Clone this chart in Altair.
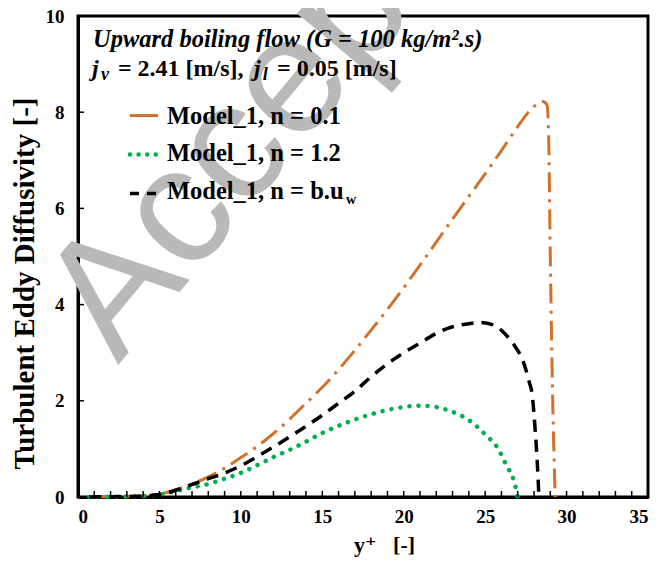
import altair as alt
import pandas as pd

# ---- data ----
x_n01 = [0.7, 2, 3, 4, 5, 6, 7, 8, 9, 10, 11, 12, 13, 14, 15, 16, 17, 18, 19, 20,
         21, 22, 23, 24, 25, 26, 27, 28, 28.55, 28.8, 28.9, 29.0, 29.15, 29.3]
y_n01 = [0.0, 0.005, 0.015, 0.03, 0.06, 0.15, 0.27, 0.42, 0.6, 0.82, 1.05, 1.32, 1.62,
         1.95, 2.28, 2.65, 3.05, 3.47, 3.9, 4.35, 4.82, 5.3, 5.78, 6.25, 6.72, 7.2,
         7.7, 8.12, 8.22, 8.15, 7.5, 5.0, 2.0, 0.0]

x_n12 = [0.7, 2, 3, 4, 5, 6, 7, 8, 9, 10, 11, 12, 13, 14, 15, 16, 17, 18, 19, 20,
         21, 22, 23, 24, 25, 25.8, 26.3, 26.8, 27.0]
y_n12 = [0.0, 0.005, 0.01, 0.02, 0.05, 0.12, 0.2, 0.27, 0.38, 0.5, 0.66, 0.83, 0.98,
         1.15, 1.33, 1.48, 1.61, 1.72, 1.81, 1.87, 1.9, 1.87, 1.77, 1.6, 1.3, 1.0,
         0.66, 0.3, 0.0]

x_bu = [0.7, 2, 3, 4, 5, 6, 7, 8, 9, 10, 11, 12, 13, 14, 15, 16, 17, 18, 19, 20, 21,
        22, 23, 24, 24.7, 25.5, 26.2, 26.8, 27.3, 27.7, 27.9, 28.05, 28.15, 28.25, 28.3]
y_bu = [0.0, 0.005, 0.01, 0.02, 0.05, 0.14, 0.26, 0.38, 0.5, 0.65, 0.84, 1.04, 1.25,
        1.47, 1.7, 1.95, 2.2, 2.5, 2.77, 3.0, 3.2, 3.4, 3.54, 3.6, 3.63, 3.58, 3.4,
        3.15, 2.85, 2.4, 2.1, 1.5, 1.0, 0.4, 0.0]

x_ticks = [0, 5, 10, 15, 20, 25, 30, 35]
y_ticks = [0, 2, 4, 6, 8, 10]
x_minor = list(range(1, 35))
y_minor = [2, 4, 6, 8]

legend_labels = ["Model_1, n = 0.1", "Model_1, n = 1.2", "Model_1, n = b.u"]
legend_y_line = [7.93, 7.12, 6.31]
legend_y_text = [7.76, 6.98, 6.19]

ORANGE = "#D2712B"
GREEN = "#00B050"
BLACK = "#000000"
SERIF = "Liberation Serif, Times New Roman, Times, DejaVu Serif, serif"

W, H = 570, 481

xs = alt.Scale(domain=[0, 35], nice=False, zero=False)
ys = alt.Scale(domain=[0, 10], nice=False, zero=False)

x_axis = alt.Axis(values=x_ticks, format="d", labelFont=SERIF, labelFontWeight="bold",
                  labelFontSize=19, labelColor="black", labelPadding=10, tickSize=0,
                  domainColor="black", domainWidth=3, grid=False,
                  title="y⁺\u00a0\u00a0\u00a0[-]", titleFont=SERIF, titleFontSize=22,
                  titleFontWeight="bold", titleColor="black", titleX=306, titleY=54,
                  titleBaseline="alphabetic", titleAlign="center")
y_axis = alt.Axis(values=y_ticks, format="d", labelFont=SERIF, labelFontWeight="bold",
                  labelFontSize=19, labelColor="black", labelPadding=14, tickSize=0,
                  domainColor="black", domainWidth=3, grid=False,
                  title="Turbulent Eddy Diffusivity [-]", titleFont=SERIF,
                  titleFontSize=29, titleFontWeight="bold", titleColor="black",
                  titleX=-45, titleY=267, titleAngle=270, titleAlign="center",
                  titleBaseline="alphabetic")


def X(field="x"):
    return alt.X(f"{field}:Q", scale=xs, axis=x_axis)


def Y(field="y"):
    return alt.Y(f"{field}:Q", scale=ys, axis=y_axis)


# watermark
wm = alt.Chart(pd.DataFrame({"x": [2.45], "y": [2.74], "t": ["Accepted"]})).mark_text(
    font="Liberation Sans, Arial, sans-serif", fontSize=168, angle=310, align="left",
    baseline="alphabetic", color="#b9b9b9"
).encode(x=X(), y=Y(), text="t:N")

df1 = pd.DataFrame({"x": x_n01, "y": y_n01})
df2 = pd.DataFrame({"x": x_n12, "y": y_n12})
df3 = pd.DataFrame({"x": x_bu, "y": y_bu})

l1 = alt.Chart(df1).mark_line(color=ORANGE, strokeWidth=3, strokeDash=[20, 7, 3, 7],
                              interpolate="monotone").encode(x=X(), y=Y(), order="x:Q")
l2 = alt.Chart(df2).mark_line(color=GREEN, strokeWidth=4.5, strokeDash=[0.1, 9],
                              strokeCap="round", interpolate="monotone").encode(x=X(), y=Y(), order="x:Q")
l3 = alt.Chart(df3).mark_line(color=BLACK, strokeWidth=3.5, strokeDash=[12, 8],
                              interpolate="monotone").encode(x=X(), y=Y(), order="x:Q")

# inward ticks
xt = alt.Chart(pd.DataFrame({"x": x_minor})).mark_rule(color="black", strokeWidth=1.5).encode(
    x=X(), y=alt.value(H), y2=alt.value(H - 6))
yt = alt.Chart(pd.DataFrame({"y": y_minor})).mark_rule(color="black", strokeWidth=1.5).encode(
    y=Y(), x=alt.value(0), x2=alt.value(6))

# legend
lx0, lx1, ltx = 3.19, 4.91, 5.46
leg1 = alt.Chart(pd.DataFrame({"x": [lx0], "x2": [lx1], "y": [legend_y_line[0]]})).mark_rule(
    color=ORANGE, strokeWidth=3).encode(x=X(), x2="x2:Q", y=Y())
leg2 = alt.Chart(pd.DataFrame({"x": [lx0], "x2": [lx1 + 0.1], "y": [legend_y_line[1]]})).mark_rule(
    color=GREEN, strokeWidth=4.5, strokeDash=[0.1, 8.5], strokeCap="round").encode(x=X(), x2="x2:Q", y=Y())
leg3 = alt.Chart(pd.DataFrame({"x": [lx0], "x2": [lx1], "y": [legend_y_line[2]]})).mark_rule(
    color=BLACK, strokeWidth=3.5, strokeDash=[9, 8]).encode(x=X(), x2="x2:Q", y=Y())
legtxt = alt.Chart(pd.DataFrame({"x": [ltx] * 3, "y": legend_y_text, "t": legend_labels})).mark_text(
    font=SERIF, fontWeight="bold", fontSize=24.5, align="left", baseline="alphabetic",
    color="black").encode(x=X(), y=Y(), text="t:N")
legsub = alt.Chart(pd.DataFrame({"x": [16.45], "y": [6.09], "t": ["w"]})).mark_text(
    font=SERIF, fontWeight="bold", fontSize=14, align="left", baseline="alphabetic",
    color="black").encode(x=X(), y=Y(), text="t:N")

# annotation
title1 = alt.Chart(pd.DataFrame({"x": [0.92], "y": [9.36], "t": ["Upward boiling flow (G = 100 kg/m².s)"]})).mark_text(
    font=SERIF, fontWeight="bold", fontStyle="italic", fontSize=24.5, align="left",
    baseline="alphabetic", color="black").encode(x=X(), y=Y(), text="t:N")
ital = alt.Chart(pd.DataFrame({"x": [0.86, 10.80], "y": [8.76, 8.76], "t": ["j", "j"]})).mark_text(
    font=SERIF, fontWeight="bold", fontStyle="italic", fontSize=24, align="left",
    baseline="alphabetic", color="black").encode(x=X(), y=Y(), text="t:N")
subs = alt.Chart(pd.DataFrame({"x": [1.41, 11.35], "y": [8.66, 8.66], "t": ["v", "l"]})).mark_text(
    font=SERIF, fontWeight="bold", fontStyle="italic", fontSize=18, align="left",
    baseline="alphabetic", color="black").encode(x=X(), y=Y(), text="t:N")
plain = alt.Chart(pd.DataFrame({"x": [2.45, 12.22], "y": [8.76, 8.76],
                                "t": ["= 2.41 [m/s],", "= 0.05 [m/s]"]})).mark_text(
    font=SERIF, fontWeight="bold", fontSize=24, align="left",
    baseline="alphabetic", color="black").encode(x=X(), y=Y(), text="t:N")

chart = alt.layer(wm, l1, l2, l3, xt, yt, leg1, leg2, leg3, legtxt, legsub,
                  title1, ital, subs, plain).properties(
    width=W, height=H, autosize=alt.AutoSizeParams(type="none"),
    padding={"left": 70, "top": 8, "right": 3, "bottom": 64},
    background="white"
).configure_view(stroke="black", strokeWidth=3)

chart.save("out.html", embed_options={"renderer": "svg", "actions": False})
